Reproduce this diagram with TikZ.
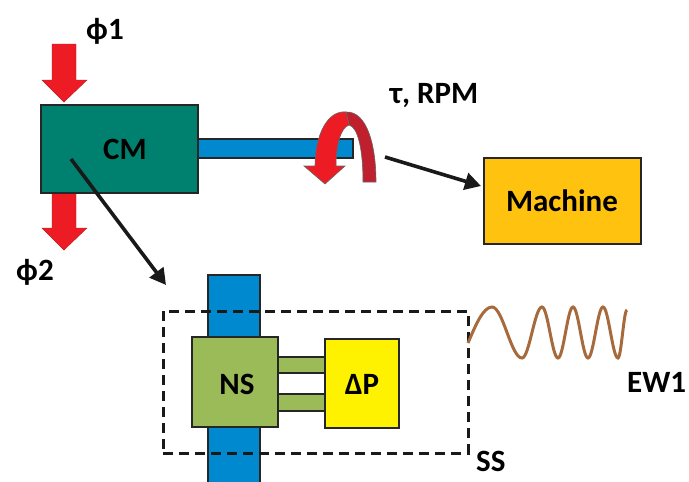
\documentclass[tikz,border=0pt]{standalone}
\usepackage{fontspec}
\setmainfont{Carlito}
\usetikzlibrary{arrows.meta}
\definecolor{cmteal}{RGB}{0,128,110}
\definecolor{shaftblue}{RGB}{0,137,207}
\definecolor{machorange}{RGB}{255,194,14}
\definecolor{nsgreen}{RGB}{155,187,89}
\definecolor{dpyellow}{RGB}{255,242,0}
\definecolor{arrred}{RGB}{237,28,36}
\definecolor{darkred}{RGB}{192,32,45}
\definecolor{wavebrown}{RGB}{166,106,60}
\tikzset{
  box/.style={draw=black!85, line width=2.6pt, inner sep=0pt},
  lbl/.style={inner sep=0pt, text height=20pt, text depth=0pt, font=\fontsize{31}{34}\selectfont\bfseries},
  conn/.style={draw=black!90, line width=3.6pt, -{Triangle[length=16pt,width=17pt]}, shorten >=0pt},
  flux/.style={fill=arrred, draw=arrred!80!black, line width=0.4pt},
}
\begin{document}
\begin{tikzpicture}[x=1pt,y=-1pt]
\useasboundingbox (0,0) rectangle (689,482);
% flux arrows
\path[flux] (52,44) -- (76,44) -- (76,80) -- (87,80) -- (64,102) -- (42,80) -- (52,80) -- cycle;
\path[flux] (52,190) -- (76,190) -- (76,228) -- (87,228) -- (64,250) -- (42,228) -- (52,228) -- cycle;
% torque arrow right leg
\path[fill=darkred, draw=black!60, line width=0.6pt] (346,112) .. controls (367,111) and (376,145) .. (376,182) -- (363,182) .. controls (363,150) and (358,127) .. (349,125) -- cycle;
% shaft
\node[box, fill=shaftblue, minimum width=155pt, minimum height=19pt] (shaft) at (275.5,148.5) {};
% CM
\node[box, fill=cmteal, minimum width=157pt, minimum height=88pt] (cmbox) at (119.5,149) {};
\node[lbl] (cm) at (125,149) {CM};
% torque arrow left leg
\path[fill=arrred, draw=black!60, line width=0.6pt] (346,112) .. controls (327,110) and (315,136) .. (315,166) -- (304,166) -- (325,184) -- (345,166) -- (336,166) .. controls (336,147) and (340,128) .. (349,125) -- cycle;
% Machine
\node[box, fill=machorange, minimum width=157pt, minimum height=86pt] (machbox) at (562.5,201) {};
\node[lbl] (mach) at (562,201) {Machine};
% labels
\node[lbl] (phi1) at (105,29) {ϕ1};
\node[lbl] (phi2) at (35,270) {ϕ2};
\node[lbl] (tau) at (434,93) {τ, RPM};
% connectors
\coordinate (c1s) at (71,159);
\coordinate (c1e) at (166,285);
\coordinate (c2s) at (385,157);
\coordinate (c2e) at (481,186);
\draw[conn] (c1s) -- (c1e);
\draw[conn] (c2s) -- (c2e);
% subsystem
\node[box, fill=shaftblue, minimum width=52pt, minimum height=215pt] (vbar) at (234,382.5) {};
\node[box, fill=nsgreen, minimum width=47pt, minimum height=16pt] (bar1) at (301.5,365) {};
\node[box, fill=nsgreen, minimum width=47pt, minimum height=17pt] (bar2) at (301.5,402.5) {};
\node[box, fill=nsgreen, minimum width=86pt, minimum height=90pt] (nsbox) at (235,382) {};
\node[lbl] (ns) at (237,384) {NS};
\node[box, fill=dpyellow, minimum width=74pt, minimum height=89pt] (dpbox) at (362,383.5) {};
\node[lbl] (dp) at (362,384) {ΔP};
\node[draw=black!90, line width=3pt, dash pattern=on 10pt off 6pt, minimum width=305pt, minimum height=142pt, inner sep=0pt] (ssbox) at (315.5,382) {};
\node[lbl, anchor=west] (ss) at (476,461) {SS};
% wave
\draw[wavebrown, line width=3pt] (468,343) sin (492,307) cos (507,332.5) sin (522,358) cos (532,332.5) sin (542,307) cos (550,332.5) sin (558,358) cos (565.5,332.5) sin (573,307) cos (580.5,332.5) sin (588,358) cos (595.5,332.5) sin (603,307) cos (610.5,332.5) sin (618,358) cos (622.5,334) sin (627,310);
\node[lbl, anchor=west] (ew) at (627,382) {EW1};
\end{tikzpicture}
\end{document}
